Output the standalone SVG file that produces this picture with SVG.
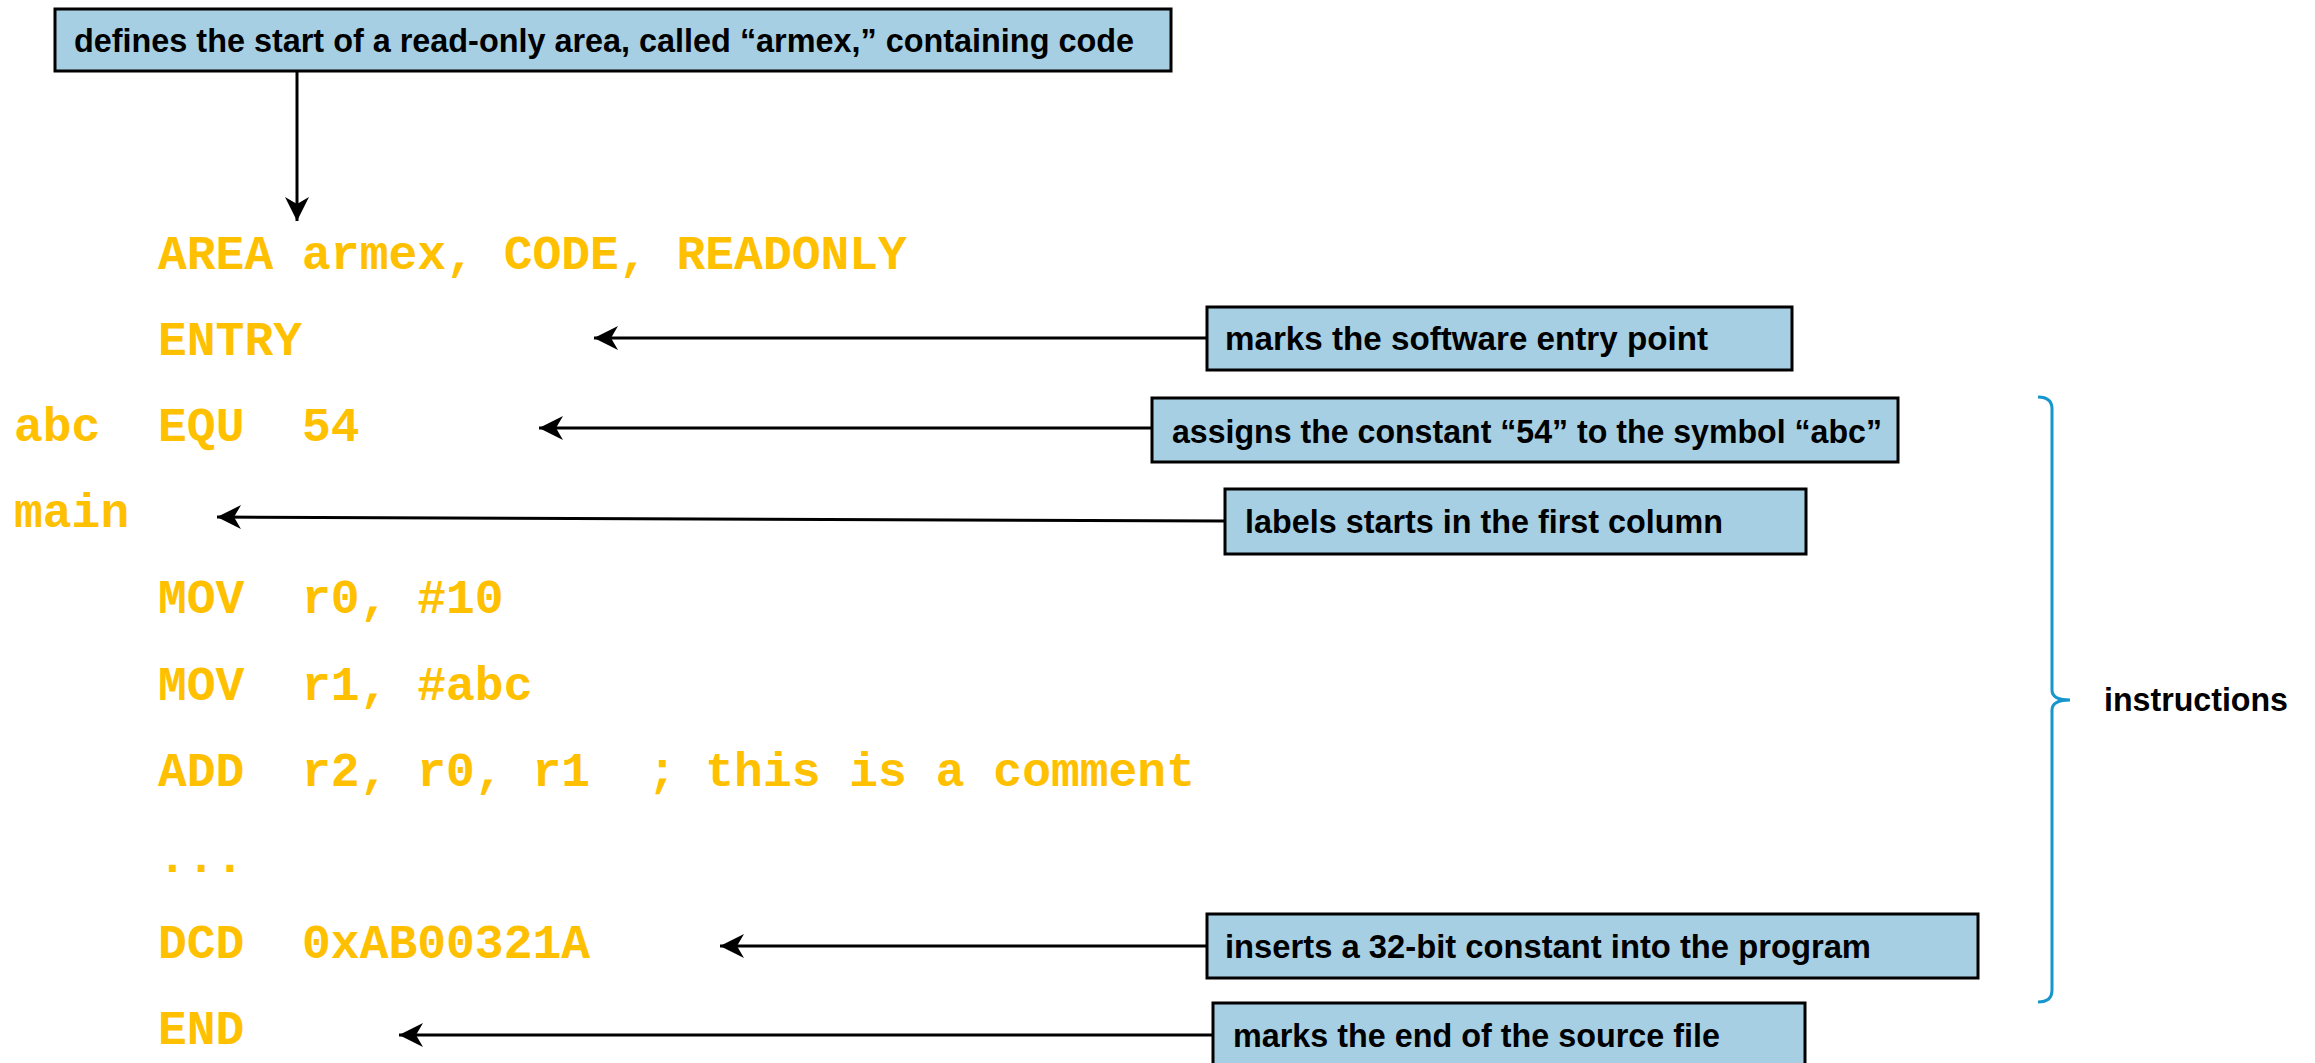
<svg xmlns="http://www.w3.org/2000/svg" width="2315" height="1063" viewBox="0 0 2315 1063">
  <style>
    .code { font-family: "Liberation Mono", "Courier New", monospace; font-weight: bold; font-size: 48px; fill: #FFC000; }
    .box { fill: #A6CFE3; stroke: #000; stroke-width: 3; }
    .note { font-family: "Liberation Sans", Arial, sans-serif; font-weight: bold; font-size: 33px; fill: #000; }
    .conn { stroke: #000; stroke-width: 3; fill: none; marker-end: url(#head); }
    .brace { stroke: #1696CD; stroke-width: 3; fill: none; }
  </style>
  <defs>
    <marker id="head" markerUnits="userSpaceOnUse" markerWidth="30" markerHeight="30" viewBox="-26 -14 30 28" refX="0" refY="0" orient="auto">
      <path d="M0,0 L-24,-12 L-17,0 L-24,12 Z" fill="#000"/>
    </marker>
  </defs>

  <!-- assembler source listing -->
  <g id="code">
    <text class="code" x="158" y="269">AREA armex, CODE, READONLY</text>
    <text class="code" x="158" y="355">ENTRY</text>
    <text class="code" x="14" y="441" xml:space="preserve">abc  EQU  54</text>
    <text class="code" x="14" y="527">main</text>
    <text class="code" x="158" y="613" xml:space="preserve">MOV  r0, #10</text>
    <text class="code" x="158" y="700" xml:space="preserve">MOV  r1, #abc</text>
    <text class="code" x="158" y="786" xml:space="preserve">ADD  r2, r0, r1  ; this is a comment</text>
    <text class="code" x="158" y="872">...</text>
    <text class="code" x="158" y="958" xml:space="preserve">DCD  0xAB00321A</text>
    <text class="code" x="158" y="1044">END</text>
  </g>

  <!-- callout boxes -->
  <g id="note-area">
    <rect class="box" x="55" y="9" width="1116" height="62"/>
    <text class="note" x="74" y="52" textLength="1060" lengthAdjust="spacingAndGlyphs">defines the start of a read-only area, called “armex,” containing code</text>
  </g>
  <g id="note-entry">
    <rect class="box" x="1207" y="307" width="585" height="63"/>
    <text class="note" x="1225" y="350" textLength="483" lengthAdjust="spacingAndGlyphs">marks the software entry point</text>
  </g>
  <g id="note-equ">
    <rect class="box" x="1152" y="398" width="746" height="64"/>
    <text class="note" x="1172" y="443" textLength="710" lengthAdjust="spacingAndGlyphs">assigns the constant “54” to the symbol “abc”</text>
  </g>
  <g id="note-label">
    <rect class="box" x="1225" y="489" width="581" height="65"/>
    <text class="note" x="1245" y="533" textLength="478" lengthAdjust="spacingAndGlyphs">labels starts in the first column</text>
  </g>
  <g id="note-dcd">
    <rect class="box" x="1207" y="914" width="771" height="64"/>
    <text class="note" x="1225" y="958" textLength="646" lengthAdjust="spacingAndGlyphs">inserts a 32-bit constant into the program</text>
  </g>
  <g id="note-end">
    <rect class="box" x="1213" y="1003" width="592" height="64"/>
    <text class="note" x="1233" y="1047" textLength="487" lengthAdjust="spacingAndGlyphs">marks the end of the source file</text>
  </g>

  <!-- brace grouping the instruction lines -->
  <g id="instructions">
    <path class="brace" d="M2038,397 Q2052,397 2052,409 L2052,690 Q2052,700 2070,700 Q2052,700 2052,710 L2052,990 Q2052,1002 2038,1002"/>
    <text class="note" x="2104" y="711" font-size="32" textLength="184" lengthAdjust="spacingAndGlyphs">instructions</text>
  </g>

  <!-- arrows from the callouts to the source lines -->
  <g id="connectors">
    <line class="conn" x1="297" y1="71" x2="297" y2="221"/>
    <line class="conn" x1="1207" y1="338" x2="594" y2="338"/>
    <line class="conn" x1="1152" y1="428" x2="539" y2="428"/>
    <line class="conn" x1="1225" y1="521" x2="217" y2="517"/>
    <line class="conn" x1="1207" y1="946" x2="720" y2="946"/>
    <line class="conn" x1="1213" y1="1035" x2="399" y2="1035"/>
  </g>
</svg>
